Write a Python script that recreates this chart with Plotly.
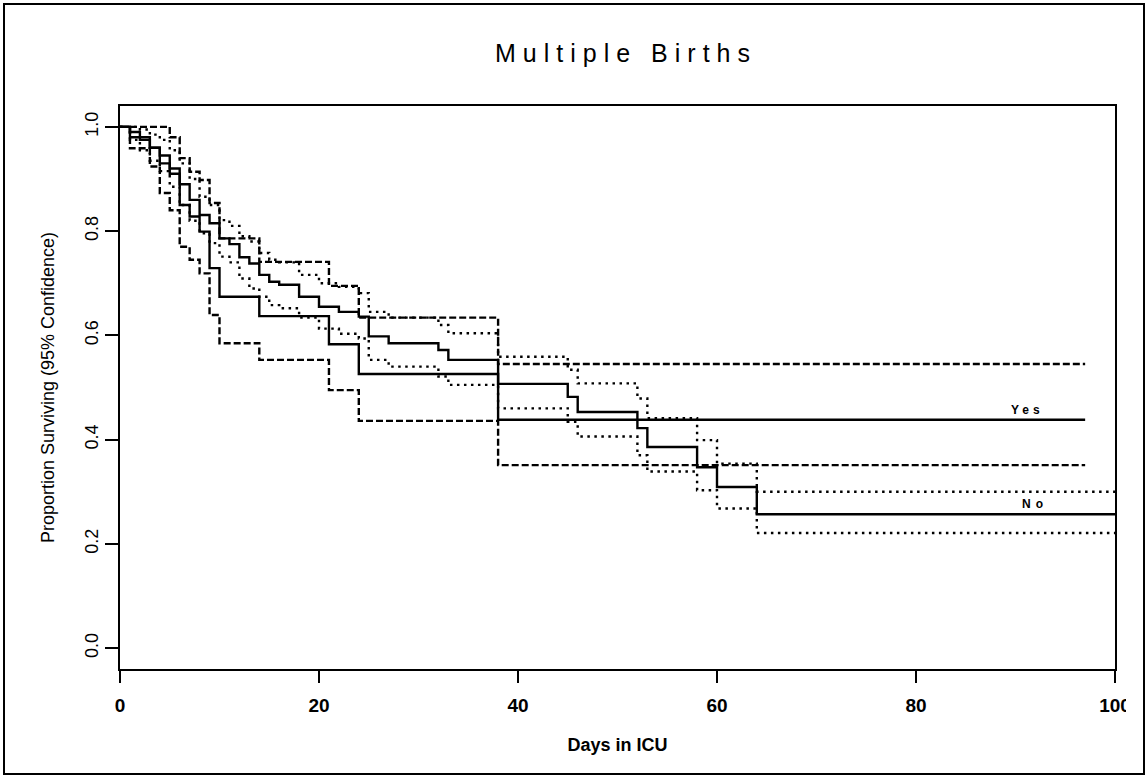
import plotly.graph_objects as go

# Kaplan-Meier estimates by multiple-birth status (step days and surviving proportion)
no_days = [0, 1, 2, 3, 4, 5, 6, 7, 8, 9, 10, 11, 12, 13, 14, 15, 16, 18, 20, 22, 24, 25, 27,
           32, 33, 38, 45, 46, 52, 53, 58, 60, 64, 100]
no_surv = [1.0, 0.99, 0.975, 0.96, 0.945, 0.92, 0.89, 0.86, 0.831, 0.815, 0.786, 0.775, 0.750,
           0.738, 0.716, 0.703, 0.697, 0.674, 0.655, 0.645, 0.636, 0.598, 0.585, 0.572, 0.553,
           0.507, 0.482, 0.453, 0.422, 0.386, 0.347, 0.309, 0.257, 0.257]
no_upper = [1.0, 1.0, 0.995, 0.985, 0.975, 0.955, 0.93, 0.90, 0.866, 0.85, 0.821, 0.81, 0.79,
            0.78, 0.758, 0.745, 0.74, 0.716, 0.700, 0.693, 0.681, 0.645, 0.634, 0.620, 0.604,
            0.559, 0.534, 0.508, 0.479, 0.441, 0.399, 0.354, 0.300, 0.300]
no_lower = [1.0, 0.975, 0.955, 0.935, 0.915, 0.885, 0.85, 0.82, 0.796, 0.777, 0.751, 0.74, 0.709,
            0.69, 0.674, 0.658, 0.652, 0.634, 0.613, 0.603, 0.594, 0.553, 0.540, 0.521, 0.505,
            0.46, 0.434, 0.406, 0.37, 0.339, 0.303, 0.268, 0.221, 0.221]

yes_days = [0, 1, 3, 4, 5, 6, 7, 8, 9, 10, 14, 21, 24, 38, 97]
yes_surv = [1.0, 0.98, 0.96, 0.93, 0.91, 0.85, 0.828, 0.799, 0.729, 0.674, 0.637, 0.583, 0.526,
            0.438, 0.438]
yes_upper = [1.0, 1.0, 1.0, 1.0, 0.98, 0.94, 0.914, 0.898, 0.854, 0.786, 0.741, 0.695, 0.634,
             0.545, 0.545]
yes_lower = [1.0, 0.959, 0.924, 0.873, 0.84, 0.77, 0.745, 0.719, 0.639, 0.585, 0.553, 0.495,
             0.436, 0.351, 0.351]

x_ticks = [0, 20, 40, 60, 80, 100]
y_ticks = [0.0, 0.2, 0.4, 0.6, 0.8, 1.0]

W, H = 1148, 778
L, R, T, B = 120, 1115, 106, 669  # plot-area edges in pixels

NARROW = "Liberation Sans Narrow, Arial Narrow, Liberation Sans, Arial, sans-serif"
SANS = "Liberation Sans, Arial, sans-serif"
DOT = "2.5px,4.5px"
DASH = "7px,3px"

fig = go.Figure()


def step(x, y, dash, width):
    fig.add_trace(go.Scatter(
        x=x, y=y, mode="lines", line_shape="hv",
        line=dict(color="black", width=width, dash=dash),
        hoverinfo="skip", showlegend=False,
    ))


# "No" group: solid estimate with dotted confidence bounds
step(no_days, no_upper, DOT, 2.4)
step(no_days, no_lower, DOT, 2.4)
step(no_days, no_surv, "solid", 2.4)
# "Yes" group: solid estimate with dashed confidence bounds
step(yes_days, yes_upper, DASH, 2.4)
step(yes_days, yes_lower, DASH, 2.4)
step(yes_days, yes_surv, "solid", 2.4)

# group labels just above the final level of each curve
fig.add_annotation(x=91.2, y=yes_surv[-1], text='<span style="letter-spacing:4px">Yes</span>',
                   showarrow=False, yanchor="bottom", yshift=1,
                   font=dict(family=SANS, size=12, color="black", weight="bold"))
fig.add_annotation(x=92, y=no_surv[-1], text='<span style="letter-spacing:5px">No</span>',
                   showarrow=False, yanchor="bottom", yshift=1,
                   font=dict(family=SANS, size=12, color="black", weight="bold"))


def px_x(p):
    return (p - L) / (R - L)


def px_y(p):
    return (B - p) / (B - T)


# outer frame around the whole graphic
fig.add_shape(type="rect", xref="paper", yref="paper",
              x0=px_x(4), x1=px_x(1144), y0=px_y(774), y1=px_y(4),
              line=dict(color="black", width=2), fillcolor="rgba(0,0,0,0)", layer="above")
# the rightmost tick label runs into the frame edge
fig.add_shape(type="rect", xref="paper", yref="paper",
              x0=px_x(1126), x1=px_x(1142.5), y0=px_y(725), y1=px_y(690),
              line=dict(width=0), fillcolor="white", layer="above")

fig.update_layout(
    width=W, height=H,
    margin=dict(l=L, r=W - R, t=T, b=H - B, pad=0),
    paper_bgcolor="white", plot_bgcolor="white",
    title=dict(
        text='<span style="letter-spacing:7px">Multiple Births</span>',
        x=626 / W, xanchor="center", y=1 - 53 / H, yanchor="middle",
        font=dict(family=SANS, size=25, color="black"),
    ),
    font=dict(family=NARROW, color="black"),
)

fig.update_xaxes(
    range=[0, 100], tickvals=x_ticks, ticktext=[str(v) for v in x_ticks],
    ticks="outside", ticklen=12, tickwidth=1.5, tickcolor="black",
    ticklabelstandoff=6,
    showline=True, linecolor="black", linewidth=2, mirror=True,
    showgrid=False, zeroline=False,
    tickfont=dict(family=NARROW, size=19, weight="bold"),
    title=dict(text="Days in ICU", standoff=24,
               font=dict(family=NARROW, size=18, weight="bold")),
)
fig.update_yaxes(
    range=[-0.04, 1.04], tickvals=y_ticks, tickformat=".1f",
    ticks="outside", ticklen=13, tickwidth=1.5, tickcolor="black", tickangle=-90,
    showline=True, linecolor="black", linewidth=2, mirror=True,
    showgrid=False, zeroline=False,
    tickfont=dict(family=SANS, size=18),
    title=dict(text="Proportion Surviving (95% Confidence)", standoff=22,
               font=dict(family=SANS, size=18)),
)

fig.write_html("out.html")
